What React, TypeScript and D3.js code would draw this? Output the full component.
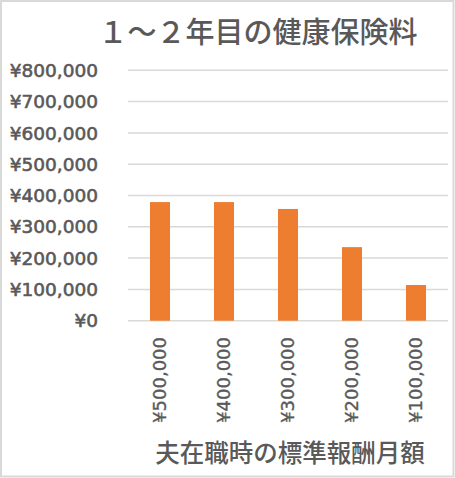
import React from "react";
import * as d3 from "d3";

const categories = ["¥500,000", "¥400,000", "¥300,000", "¥200,000", "¥100,000"];
const values = [379000, 379000, 357000, 235000, 114000];
const yTicks = [0, 100000, 200000, 300000, 400000, 500000, 600000, 700000, 800000];
const title = "１～２年目の健康保険料";
const xTitle = "夫在職時の標準報酬月額";

const W = 455;
const H = 478;
const left = 128;
const right = 448;
const top = 70.3;
const bottom = 320.7;
const font = "'Noto Sans CJK JP', 'Noto Sans', sans-serif";
const numFont = "'DejaVu Sans', sans-serif";
const textColor = "#595959";

export default function App() {
  const x = d3.scaleBand<string>().domain(categories).range([left, right]).paddingInner(0.6875).paddingOuter(0.34375);
  const y = d3.scaleLinear().domain([0, 800000]).range([bottom, top]);
  const fmt = (v: number) => "¥" + d3.format(",")(v);
  return (
    <svg width={W} height={H} style={{ position: "absolute", left: 0, top: 0, background: "#fff" }}>
      <rect x={1} y={1} width={W - 2.5} height={H - 2.5} fill="#fff" stroke="#d9d9d9" strokeWidth={2} />
      <text x={258} y={43} textAnchor="middle" fontFamily={font} fontSize={29} fontWeight={500} fill={textColor}>{title}</text>
      {yTicks.map((t) => (
        <g key={t}>
          <line x1={left} x2={right} y1={y(t)} y2={y(t)} stroke="#d9d9d9" strokeWidth={1.5} />
          <text x={98} y={y(t)} dy="0.36em" textAnchor="end" fontFamily={numFont} fontSize={18.5} fill={textColor} stroke={textColor} strokeWidth={0.6}>{fmt(t)}</text>
        </g>
      ))}
      {categories.map((c, i) => (
        <rect key={c} x={x(c)} y={y(values[i])} width={x.bandwidth()} height={bottom - y(values[i])} fill="#ed7d31" />
      ))}
      {categories.map((c) => {
        const cx = (x(c) as number) + x.bandwidth() / 2;
        return (
          <text key={c} transform={`translate(${cx},337) rotate(-90)`} dy="0.36em" textAnchor="end" fontFamily={numFont} fontSize={18} fill={textColor} stroke={textColor} strokeWidth={0.35}>{c}</text>
        );
      })}
      <text x={290} y={462} textAnchor="middle" fontFamily={font} fontSize={24.5} fontWeight={500} fill={textColor}>{xTitle}</text>
    </svg>
  );
}
